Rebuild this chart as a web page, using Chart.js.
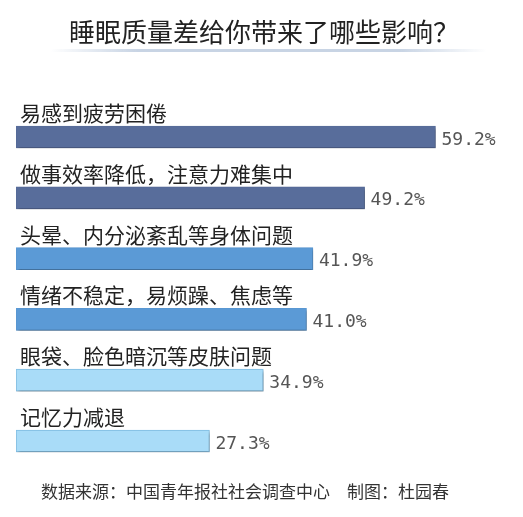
<!DOCTYPE html>
<html>
<head>
<meta charset="utf-8">
<script src="https://cdn.jsdelivr.net/npm/chart.js@4"></script>
<style>
  html, body { margin: 0; padding: 0; background: #fff; }
  #wrap { width: 523px; height: 517px; }
</style>
</head>
<body>
<div id="wrap"><canvas id="chart_sleep"></canvas></div>
<script>
const titleText = '睡眠质量差给你带来了哪些影响？';
const footerText = '数据来源：中国青年报社社会调查中心　制图：杜园春';

const categories = [
    '易感到疲劳困倦',
    '做事效率降低，注意力难集中',
    '头晕、内分泌紊乱等身体问题',
    '情绪不稳定，易烦躁、焦虑等',
    '眼袋、脸色暗沉等皮肤问题',
    '记忆力减退'
];
const values = [59.2, 49.2, 41.9, 41.0, 34.9, 27.3];
const barColors = ['#586d9b', '#586d9b', '#5b9ad6', '#5b9ad6', '#a9dcf8', '#a9dcf8'];
const borderColors = ['#586d9b', '#586d9b', '#5b9ad6', '#5b9ad6', '#7fbde3', '#7fbde3'];

const cjkFont = '"Noto Sans CJK SC", "Noto Sans", sans-serif';

// 标题下的渐变线、类别文字、数值、底部来源
const decorPlugin = {
    id: 'decor',
    beforeDatasetsDraw(chart) {
        const ctx = chart.ctx;
        ctx.save();
        ctx.shadowColor = 'rgba(0,0,0,0.35)';
        ctx.shadowOffsetX = 1;
        ctx.shadowOffsetY = 2;
        ctx.shadowBlur = 3;
    },
    afterDatasetsDraw(chart) {
        const ctx = chart.ctx;
        ctx.restore();

        // underline of title
        const grad = ctx.createLinearGradient(50, 0, 487, 0);
        grad.addColorStop(0, 'rgba(200,212,228,0)');
        grad.addColorStop(0.2, 'rgba(200,212,228,1)');
        grad.addColorStop(0.8, 'rgba(200,212,228,1)');
        grad.addColorStop(1, 'rgba(200,212,228,0)');
        ctx.save();
        ctx.fillStyle = grad;
        ctx.fillRect(50, 49, 437, 3);
        ctx.restore();

        const meta = chart.getDatasetMeta(0);
        ctx.save();
        ctx.textBaseline = 'middle';
        meta.data.forEach(function (bar, i) {
            ctx.font = '21px ' + cjkFont;
            ctx.fillStyle = '#222';
            ctx.textAlign = 'left';
            ctx.fillText(categories[i], 20, bar.y - 24);

            ctx.font = '18px "DejaVu Sans Mono", monospace';
            ctx.fillStyle = '#555';
            ctx.fillText(values[i].toFixed(1) + '%', bar.x + 6, bar.y + 3);
        });

        ctx.font = '17px ' + cjkFont;
        ctx.fillStyle = '#333';
        ctx.textAlign = 'center';
        ctx.fillText(footerText, 245, 492);
        ctx.restore();
    }
};

new Chart(document.getElementById('chart_sleep'), {
    type: 'bar',
    data: {
        labels: categories,
        datasets: [{
            data: values,
            backgroundColor: barColors,
            borderColor: borderColors,
            borderWidth: 1,
            borderSkipped: false,
            barThickness: 22
        }]
    },
    options: {
        indexAxis: 'y',
        responsive: true,
        maintainAspectRatio: false,
        animation: false,
        layout: {
            padding: { left: 16, right: 11, top: 0, bottom: 45.6 }
        },
        scales: {
            x: {
                display: false,
                min: 0,
                max: 70
            },
            y: {
                display: false
            }
        },
        plugins: {
            legend: { display: false },
            tooltip: { enabled: false },
            title: {
                display: true,
                text: titleText,
                color: '#222',
                font: { family: cjkFont, size: 26, weight: 'normal' },
                padding: { top: 16.4, bottom: 59 }
            }
        }
    },
    plugins: [decorPlugin]
});
</script>
</body>
</html>
